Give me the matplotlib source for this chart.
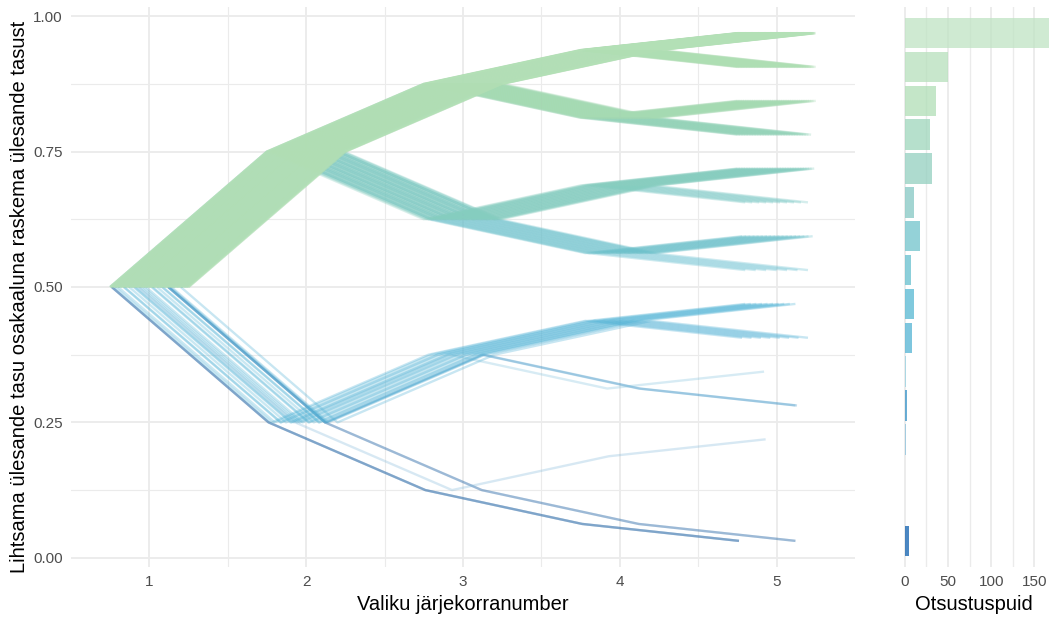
import numpy as np
import matplotlib
matplotlib.use("Agg")
from matplotlib import pyplot as plt

plt.rcParams['font.family'] = ['Liberation Sans', 'DejaVu Sans']

# final value of each decision tree bin (5 bisection steps) and number of trees
final_values = [0.96875, 0.90625, 0.84375, 0.78125, 0.71875, 0.65625, 0.59375, 0.53125,
                0.46875, 0.40625, 0.34375, 0.28125, 0.21875, 0.15625, 0.09375, 0.03125]
tree_counts = [170, 50, 36, 29, 31, 10, 18, 7, 10, 8, 1, 2, 1, 0, 0, 5]
steps = [1, 2, 3, 4, 5]
x_ticks = [1, 2, 3, 4, 5]
y_ticks = [0.0, 0.25, 0.5, 0.75, 1.0]
y_ticklabels = ['0.00', '0.25', '0.50', '0.75', '1.00']
bar_ticks = [0, 50, 100, 150]

# colours per bin (top -> bottom)
bar_colors = ['#bfe3c3', '#b6e0bb', '#b0deb6', '#9ed6bb', '#93cfc0', '#84c8c3', '#70c3cb', '#66bfce',
              '#55b8d2', '#53b3d3', '#96d0e0', '#3893c8', '#8bc0db', '#5aa0cc', '#4a90c6', '#0f5fae']
line_colors = ['#b3e0b6', '#aedeb3', '#a5dab2', '#93d3b8', '#85cdbf', '#78c7c4', '#6cc1cb', '#62bdcf',
               '#4fb3d6', '#4aaed4', '#7cc0dc', '#3d94c6', '#7db6d8', '#5a9fcc', '#4a8cc0', '#3f78b0']

# horizontal dodge of the trees inside each bin (layout only)
dodge = [(-0.25, 0.25), (-0.25, 0.25), (-0.25, 0.25), (-0.25, 0.22), (-0.25, 0.24),
         (-0.2, 0.2), (-0.22, 0.23), (-0.2, 0.2), (-0.2, 0.12), (-0.22, 0.2),
         [-0.08], [0.12, 0.13], [-0.07], [], [], [-0.24, -0.24, -0.24, 0.12, 0.12]]

grid_col = '#EBEBEB'
text_col = '#4D4D4D'


def tree_path(v):
    # bisection path that ends at v
    ys = [0.5]
    step = 0.25
    for _ in range(len(steps) - 1):
        y = ys[-1]
        ys.append(y + step if v > y else y - step)
        step /= 2
    return ys


fig = plt.figure(figsize=(10.49, 6.17), dpi=100)
ax = fig.add_axes([71 / 1049, 50 / 617, 784 / 1049, 560 / 617])
axb = fig.add_axes([898 / 1049, 50 / 617, 151 / 1049, 560 / 617])

# trees, lowest bins first so the high ones sit on top
for i in reversed(range(len(final_values))):
    v, n, col, d = final_values[i], tree_counts[i], line_colors[i], dodge[i]
    if n == 0:
        continue
    if isinstance(d, tuple):
        offs = np.linspace(d[0], d[1], n)
    else:
        offs = d
    ys = tree_path(v)
    for off in offs:
        ax.plot(np.array(steps) + off, ys, color=col, alpha=0.3, lw=1.7,
                solid_capstyle='butt', zorder=3)

ax.set_xlim(0.5, 5.5)
ax.set_ylim(-0.017, 1.017)
ax.set_xticks(x_ticks)
ax.set_xticks([1.5, 2.5, 3.5, 4.5], minor=True)
ax.set_yticks(y_ticks)
ax.set_yticklabels(y_ticklabels)
ax.set_yticks([0.125, 0.375, 0.625, 0.875], minor=True)
ax.grid(True, which='major', color=grid_col, lw=1.3, zorder=0)
ax.grid(True, which='minor', color=grid_col, lw=0.8, zorder=0)
ax.tick_params(which='both', length=0, labelsize=11, labelcolor=text_col, pad=6)
for s in ax.spines.values():
    s.set_visible(False)
ax.set_xlabel('Valiku järjekorranumber', fontsize=14.5, labelpad=4)
ax.set_ylabel('Lihtsama ülesande tasu osakaaluna raskema ülesande tasust', fontsize=14.5)
ax.yaxis.set_label_coords(-0.053, 0.482)

# bars
axb.barh(final_values, tree_counts, height=0.0625 * 0.9, color=bar_colors, alpha=0.75, zorder=3)
axb.set_xlim(-8, 167)
axb.set_ylim(-0.017, 1.017)
axb.set_xticks(bar_ticks)
axb.set_xticks([25, 75, 125], minor=True)
axb.set_yticks([])
axb.grid(True, which='major', axis='x', color=grid_col, lw=1.3, zorder=0)
axb.grid(True, which='minor', axis='x', color=grid_col, lw=1.0, zorder=0)
axb.tick_params(which='both', length=0, labelsize=11, labelcolor=text_col, pad=6)
for s in axb.spines.values():
    s.set_visible(False)
axb.set_xlabel('Otsustuspuid', fontsize=14.5, labelpad=4)

fig.savefig('out.png', dpi=100)
